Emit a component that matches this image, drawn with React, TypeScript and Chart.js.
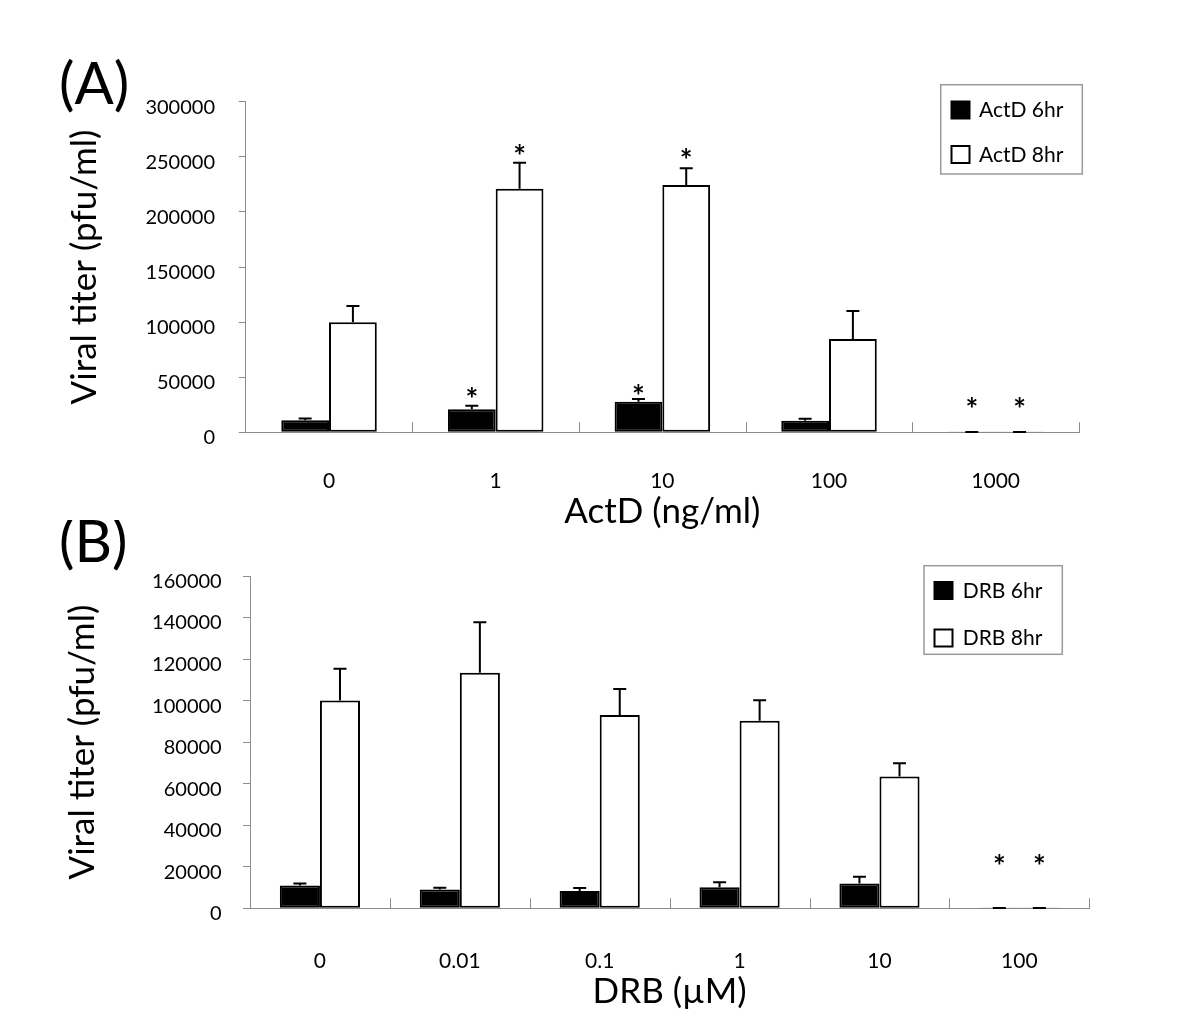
import React, { useEffect, useRef } from "react";
import { Chart, registerables } from "chart.js";

Chart.register(...registerables);

// ---------- Data ----------
const actdLabels = ["0", "1", "10", "100", "1000"];
const actd6 = [11000, 21000, 27800, 10500, 50];
const actd6Err = [1500, 3000, 2500, 1800, 250];
const actd8 = [99800, 221000, 224400, 84700, 50];
const actd8Err = [14800, 23600, 15200, 25300, 250];
const actd6Star = [null, 35400, 37500, null, 26300];
const actd8Star = [null, 255300, 252300, null, 26300];
const actdTicks = { max: 300000, step: 50000 };

const drbLabels = ["0", "0.01", "0.1", "1", "10", "100"];
const drb6 = [11000, 9100, 8300, 10100, 12000, 50];
const drb6Err = [1000, 800, 1500, 2400, 3200, 150];
const drb8 = [100100, 113400, 93100, 90300, 63500, 50];
const drb8Err = [15300, 24300, 12500, 9900, 6300, 150];
const drb6Star = [null, null, null, null, null, 23100];
const drb8Star = [null, null, null, null, null, 23100];
const drbTicks = { max: 160000, step: 20000 };

const FONT = "Lato, 'Open Sans', sans-serif";

// ---------- Plugins ----------
const errorBarPlugin = {
  id: "errorBars",
  afterDatasetsDraw(chart: any) {
    const ctx = chart.ctx;
    const ys = chart.scales.y;
    chart.data.datasets.forEach((ds: any, di: number) => {
      const meta = chart.getDatasetMeta(di);
      meta.data.forEach((bar: any, i: number) => {
        const v = ds.data[i];
        const e = ds.errors ? ds.errors[i] : 0;
        const x = bar.x;
        const yTop = ys.getPixelForValue(v);
        const yErr = ys.getPixelForValue(v + e);
        ctx.save();
        ctx.strokeStyle = "#000";
        ctx.lineWidth = 2;
        ctx.beginPath();
        ctx.moveTo(x, yTop);
        ctx.lineTo(x, yErr);
        ctx.moveTo(x - 6.5, yErr);
        ctx.lineTo(x + 6.5, yErr);
        ctx.stroke();
        const s = ds.stars ? ds.stars[i] : null;
        if (s != null) {
          ctx.fillStyle = "#000";
          ctx.font = `bold 30px ${FONT}`;
          ctx.textAlign = "center";
          ctx.textBaseline = "alphabetic";
          ctx.fillText("*", x, ys.getPixelForValue(s) + 16.5);
        }
        ctx.restore();
      });
    });
  },
};

const xTickMarksPlugin = {
  id: "xTickMarks",
  afterDraw(chart: any) {
    const { ctx, chartArea } = chart;
    const n = chart.data.labels.length;
    const w = (chartArea.right - chartArea.left) / n;
    ctx.save();
    ctx.strokeStyle = "#8c8c8c";
    ctx.lineWidth = 1;
    ctx.beginPath();
    for (let i = 1; i <= n; i++) {
      const x = Math.round(chartArea.left + i * w) + 0.5;
      ctx.moveTo(x, chartArea.bottom);
      ctx.lineTo(x, chartArea.bottom - 10);
    }
    ctx.stroke();
    ctx.restore();
  },
};

const boxLegendPlugin = {
  id: "boxLegend",
  afterDraw(chart: any, _args: any, opts: any) {
    if (!opts || !opts.box) return;
    const ctx = chart.ctx;
    const [x1, y1, x2, y2] = opts.box;
    ctx.save();
    ctx.fillStyle = "#fff";
    ctx.fillRect(x1, y1, x2 - x1, y2 - y1);
    ctx.strokeStyle = "#9a9a9a";
    ctx.lineWidth = 1.5;
    ctx.strokeRect(x1, y1, x2 - x1, y2 - y1);
    chart.data.datasets.forEach((ds: any, i: number) => {
      const sy = opts.rowY[i];
      ctx.fillStyle = ds.backgroundColor;
      ctx.fillRect(opts.squareX, sy, 18, 17);
      ctx.strokeStyle = "#000";
      ctx.lineWidth = 2;
      ctx.strokeRect(opts.squareX, sy, 18, 17);
      ctx.fillStyle = "#000";
      ctx.font = `21px ${FONT}`;
      ctx.textAlign = "left";
      ctx.textBaseline = "middle";
      ctx.fillText(ds.label, opts.textX, sy + 9);
    });
    ctx.restore();
  },
};

const panelLabelPlugin = {
  id: "panelLabel",
  afterDraw(chart: any, _args: any, opts: any) {
    if (!opts || !opts.text) return;
    const ctx = chart.ctx;
    ctx.save();
    ctx.fillStyle = "#000";
    ctx.font = `58px ${FONT}`;
    ctx.textAlign = "left";
    ctx.textBaseline = "alphabetic";
    ctx.fillText(opts.text, opts.x, opts.y);
    ctx.restore();
  },
};

// ---------- Chart factory ----------
type PanelCfg = {
  labels: string[];
  s6: number[];
  e6: number[];
  st6: (number | null)[];
  s8: number[];
  e8: number[];
  st8: (number | null)[];
  name6: string;
  name8: string;
  ticks: { max: number; step: number };
  xTitle: string;
  height: number;
  padTop: number;
  padRight: number;
  padBottom: number;
  yWidth: number;
  xHeight: number;
  yTitlePad: number;
  yTickPad: number;
  xTickPad: number;
  legend: any;
  panel: any;
};

function makeConfig(p: PanelCfg): any {
  return {
    type: "bar",
    data: {
      labels: p.labels,
      datasets: [
        {
          label: p.name6,
          data: p.s6,
          errors: p.e6,
          stars: p.st6,
          backgroundColor: "#000",
          borderColor: "#000",
          borderWidth: 2,
          borderSkipped: false,
          categoryPercentage: 0.573,
          barPercentage: 1.0,
        },
        {
          label: p.name8,
          data: p.s8,
          errors: p.e8,
          stars: p.st8,
          backgroundColor: "#fff",
          borderColor: "#000",
          borderWidth: 2,
          borderSkipped: false,
          categoryPercentage: 0.573,
          barPercentage: 1.0,
        },
      ],
    },
    options: {
      responsive: false,
      animation: false,
      devicePixelRatio: 1,
      layout: {
        padding: { left: 0, top: p.padTop, right: p.padRight, bottom: p.padBottom },
      },
      plugins: {
        legend: { display: false },
        tooltip: { enabled: false },
        title: { display: false },
        boxLegend: p.legend,
        panelLabel: p.panel,
      },
      scales: {
        x: {
          type: "category",
          grid: { display: true, drawOnChartArea: false, drawTicks: false },
          border: { display: true, color: "#8c8c8c", width: 1 },
          ticks: {
            color: "#000",
            font: { family: FONT, size: 21 },
            padding: p.xTickPad,
            maxRotation: 0,
            autoSkip: false,
          },
          title: {
            display: true,
            text: p.xTitle,
            color: "#000",
            font: { family: FONT, size: 35 },
            padding: { top: 0, bottom: 0 },
          },
          afterFit(scale: any) {
            scale.height = p.xHeight;
          },
        },
        y: {
          type: "linear",
          min: 0,
          max: p.ticks.max,
          grid: {
            display: true,
            drawOnChartArea: false,
            drawTicks: true,
            tickLength: 7,
            color: "#8c8c8c",
          },
          border: { display: true, color: "#8c8c8c", width: 1 },
          ticks: {
            stepSize: p.ticks.step,
            color: "#000",
            font: { family: FONT, size: 20 },
            padding: p.yTickPad,
            labelOffset: 5.5,
            callback: (v: any) => String(v),
          },
          title: {
            display: true,
            text: "Viral titer (pfu/ml)",
            color: "#000",
            font: { family: FONT, size: 35 },
            padding: { top: p.yTitlePad, bottom: 0 },
          },
          afterFit(scale: any) {
            scale.width = p.yWidth;
          },
        },
      },
    },
    plugins: [errorBarPlugin, xTickMarksPlugin, boxLegendPlugin, panelLabelPlugin],
  };
}

const panelA: PanelCfg = {
  labels: actdLabels,
  s6: actd6,
  e6: actd6Err,
  st6: actd6Star,
  s8: actd8,
  e8: actd8Err,
  st8: actd8Star,
  name6: "ActD 6hr",
  name8: "ActD 8hr",
  ticks: actdTicks,
  xTitle: "ActD (ng/ml)",
  height: 533,
  padTop: 101.7,
  padRight: 121,
  padBottom: 0.3,
  yWidth: 245.7,
  xHeight: 100.4,
  yTitlePad: 64,
  yTickPad: 23.7,
  xTickPad: 36.8,
  legend: { box: [940.7, 84.7, 1082.3, 174], squareX: 951.5, rowY: [101.5, 146], textX: 979 },
  panel: { text: "(A)", x: 59, y: 104 },
};

const panelB: PanelCfg = {
  labels: drbLabels,
  s6: drb6,
  e6: drb6Err,
  st6: drb6Star,
  s8: drb8,
  e8: drb8Err,
  st8: drb8Star,
  name6: "DRB 6hr",
  name8: "DRB 8hr",
  ticks: drbTicks,
  xTitle: "DRB (\u00b5M)",
  height: 509,
  padTop: 56,
  padRight: 110.7,
  padBottom: 16.3,
  yWidth: 250,
  xHeight: 104.4,
  yTitlePad: 62,
  yTickPad: 21.3,
  xTickPad: 40.8,
  legend: { box: [924, 45.7, 1062.3, 134.3], squareX: 934.5, rowY: [62, 109.5], textX: 962.7 },
  panel: { text: "(B)", x: 59, y: 42 },
};

function Panel({ cfg, top }: { cfg: PanelCfg; top: number }) {
  const ref = useRef<HTMLCanvasElement | null>(null);
  useEffect(() => {
    if (!ref.current) return;
    const chart = new Chart(ref.current, makeConfig(cfg));
    return () => chart.destroy();
  }, [cfg]);
  return (
    <canvas
      ref={ref}
      width={1200}
      height={cfg.height}
      style={{ position: "absolute", left: 0, top, width: 1200, height: cfg.height, display: "block" }}
    />
  );
}

export default function App() {
  return (
    <div
      style={{
        position: "absolute",
        left: 0,
        top: 0,
        width: 1200,
        height: 1029,
        background: "#fff",
        overflow: "hidden",
      }}
    >
      <Panel cfg={panelA} top={0} />
      <Panel cfg={panelB} top={520} />
    </div>
  );
}
